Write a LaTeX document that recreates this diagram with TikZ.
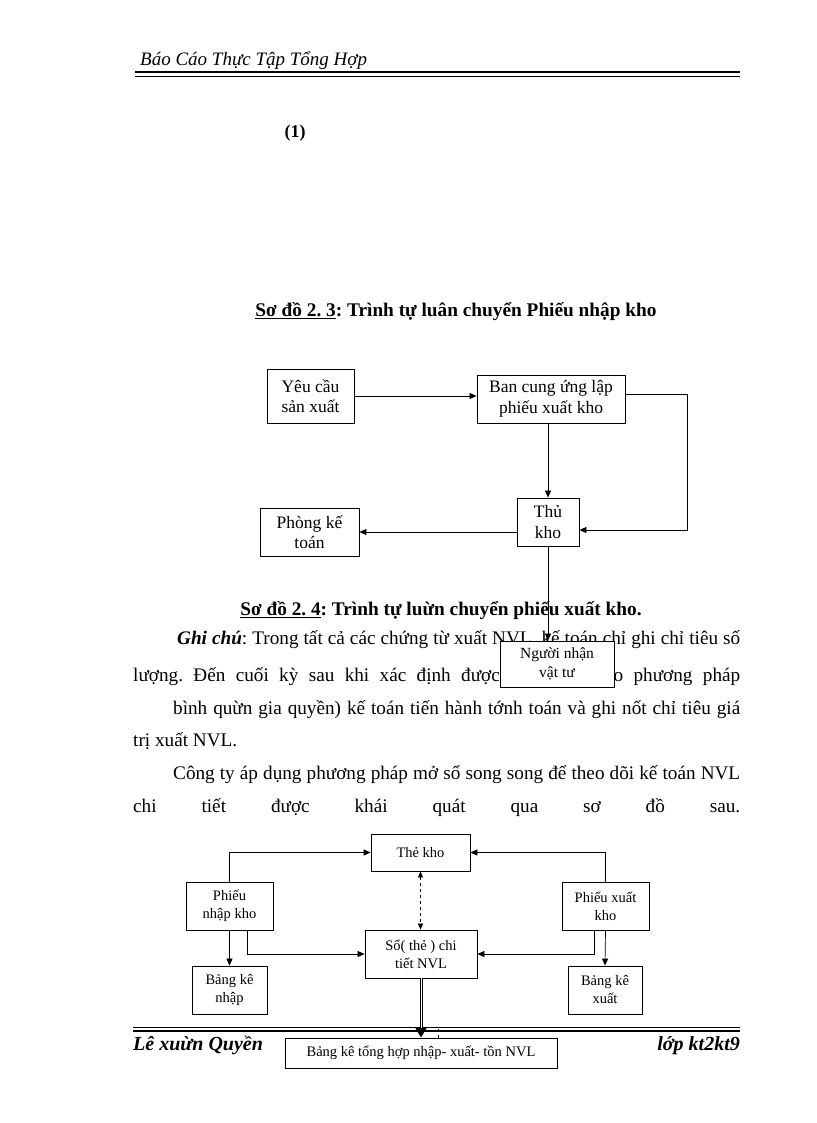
\documentclass[tikz,border=0pt]{standalone}
\usepackage{fontspec}
\setmainfont{Liberation Serif}
\usetikzlibrary{arrows.meta}
\frenchspacing
\tikzset{
  box/.style={draw, line width=0.8pt, fill=white, align=center, inner sep=0pt},
  bigtxt/.style={font=\fontsize{17.5}{20.5}\selectfont},
  smalltxt/.style={font=\fontsize{14.5}{18}\selectfont},
  arr/.style={line width=0.7pt, -{Triangle[length=7pt,width=6pt]}},
  body/.style={anchor=base west, inner sep=0pt, font=\fontsize{19.2}{22}\selectfont},
}
\begin{document}
\begin{tikzpicture}[x=1pt,y=-1pt]
\useasboundingbox[fill=white] (0,0) rectangle (816,1123);
% header
\node[anchor=base west, inner sep=0pt, font=\fontsize{19}{22}\selectfont\itshape] (hdr) at (140,66) {Báo Cáo Thực Tập Tổng Hợp};
\draw[line width=2pt] (135,72.5) -- (740,72.5);
\draw[line width=0.7pt] (135,76) -- (740,76);
\node[font=\fontsize{18}{20}\selectfont\bfseries] (one) at (295,133) {(1)};
% title 1
\node[font=\fontsize{19.3}{22}\selectfont\bfseries] (t1) at (456,312) {\underline{Sơ đồ 2. 3}: Trình tự luân chuyển Phiếu nhập kho};
% diagram 1
\node[box, bigtxt, minimum width=87pt, minimum height=54pt] (yc) at (310.5,396) {Yêu cầu\\sản xuất};
\node[box, bigtxt, minimum width=148pt, minimum height=48pt] (ban) at (551,399) {Ban cung ứng lập\\phiếu xuất kho};
\node[box, bigtxt, minimum width=62pt, minimum height=48pt] (thu) at (548,522) {Thủ\\kho};
\node[box, bigtxt, minimum width=99pt, minimum height=48pt] (pkt) at (309.5,532) {Phòng kế\\toán};
\draw[arr] (yc.east) -- (yc.east -| ban.west);
\draw[arr] (thu.north |- ban.south) -- (thu.north);
\draw[arr] ([yshift=5pt]ban.east) -- ++(62,0) |- ([yshift=-8pt]thu.east);
\draw[arr] (pkt.east -| thu.west) -- (pkt.east);
% title 2
\node[font=\fontsize{19.3}{22}\selectfont\bfseries] (t2) at (441,611) {\underline{Sơ đồ 2. 4}: Trình tự luừn chuyển phiếu xuất kho.};
% body text
\node[body] (l1) at (177,644) {\makebox[563pt][s]{\textbf{\textit{Ghi chú}}: Trong tất cả các chứng từ xuất NVL, kế toán chỉ ghi chỉ tiêu số}};
\node[body] (l2) at (133,681) {\makebox[607pt][s]{lượng. Đến cuối kỳ sau khi xác định được đơn giá (theo phương pháp}};
\node[body] (l3) at (173,714) {\makebox[567pt][s]{bình quừn gia quyền) kế toán tiến hành tớnh toán và ghi nốt chỉ tiêu giá}};
\node[body] (l4) at (133,746) {trị xuất NVL.};
\node[body] (l5) at (173,779) {\makebox[567pt][s]{Công ty áp dụng phương pháp mở sổ song song để theo dõi kế toán NVL}};
\node[body] (l6) at (133,812) {\makebox[607pt][s]{chi tiết được khái quát qua sơ đồ sau.}};
% nguoi nhan
\node[box, font=\fontsize{15.5}{19}\selectfont, minimum width=114pt, minimum height=46pt] (nn) at (557,664) {Người nhận\\vật tư};
\draw[arr] (thu.south) -- (thu.south |- nn.north);
% footer rules
\draw[line width=0.7pt] (133,1027) -- (740,1027);
\draw[line width=2pt] (133,1030.5) -- (740,1030.5);
\node[anchor=base west, inner sep=0pt, font=\fontsize{20}{22}\selectfont\bfseries\itshape] (fl) at (133,1050) {Lê xuừn Quyền};
\node[anchor=base east, inner sep=0pt, font=\fontsize{20}{22}\selectfont\bfseries\itshape] (fr) at (740,1050) {lớp kt2kt9};
% diagram 2
\node[box, smalltxt, minimum width=99pt, minimum height=37pt] (tk) at (420.5,852.5) {Thẻ kho};
\node[box, smalltxt, minimum width=87pt, minimum height=48pt] (pn) at (229.5,906) {Phiếu\\nhập kho};
\node[box, smalltxt, minimum width=87pt, minimum height=48pt] (px) at (605.5,906) {Phiếu xuất\\kho};
\node[box, smalltxt, minimum width=112pt, minimum height=48pt] (so) at (421,954) {Sổ( thẻ ) chi\\tiết NVL};
\node[box, smalltxt, minimum width=75pt, minimum height=48pt] (bkn) at (229.5,990) {Bảng kê\\nhập};
\node[box, smalltxt, minimum width=74pt, minimum height=48pt] (bkx) at (605,990) {Bảng kê\\xuất};
\node[box, smalltxt, minimum width=272pt, minimum height=30pt] (th) at (421,1053) {Bảng kê tổng hợp nhập- xuất- tồn NVL};
\draw[arr] (pn.north) |- (tk.west);
\draw[arr] (px.north) |- (tk.east);
\draw[line width=0.7pt, dashed, {Triangle[length=6pt,width=5pt]}-{Triangle[length=6pt,width=5pt]}] (tk.south) -- (tk.south |- so.north);
\draw[arr] (pn.south) -- (bkn.north);
\draw[arr] ([xshift=18pt]pn.south) |- (so.west);
\draw[arr] ([xshift=-11pt]px.south) |- (so.east);
\draw[arr] (px.south) -- (bkx.north);
\draw[line width=3pt, -{Triangle[length=10pt,width=11pt]}] (so.south) -- (so.south |- th.north);
\draw[white, line width=0.9pt, shorten >=10pt] (so.south) -- (so.south |- th.north);
\coordinate (dt) at (438,1029);
\draw[line width=0.7pt, dashed] (dt) -- (dt |- th.north);
\end{tikzpicture}
\end{document}
